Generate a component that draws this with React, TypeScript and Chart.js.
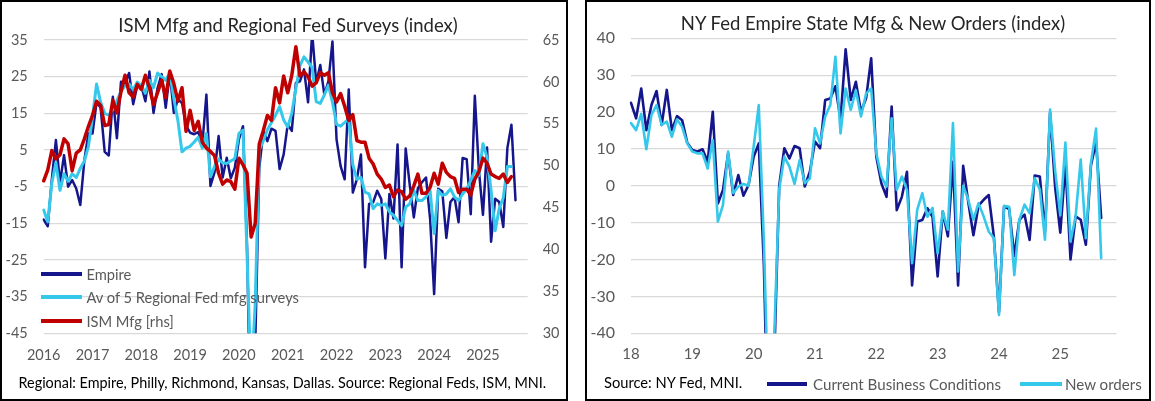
import React, { useEffect, useRef } from 'react';
import { Chart, registerables } from 'chart.js';

Chart.register(...registerables);

// ---------- categories / tick labels ----------
const MONTHS = ['Jan', 'Feb', 'Mar', 'Apr', 'May', 'Jun', 'Jul', 'Aug', 'Sep', 'Oct', 'Nov', 'Dec'];
const leftYears = ['2016', '2017', '2018', '2019', '2020', '2021', '2022', '2023', '2024', '2025'];
const rightYears = ['18', '19', '20', '21', '22', '23', '24', '25'];

// ---------- series (monthly, from Jan 2016) ----------
const empire = [
  -14, -15.8, -3, 7.7, -4, 3.6, -5, -3.2, -5.5, -10, 2.2, 9.5,
  9.5, 18, 16.5, 4.5, 3.5, 19.5, 8.2, 23.6, 23.2, 26, 17.5, 22.5,
  22.5, 18.3, 26.4, 15.1, 21.9, 25.7, 16.5, 26, 15.1, 18.9, 17.8, 11.7,
  9.7, 9.3, 9.9, 6.5, 20.1, -4.8, -1.1, 8.8, -2.5, 2.9, -2.7, 0.2,
  7.9, 11.5, -21.5, -78.2, -48.5, 0, 10.2, 7.4, 10.8, 10.2, -0.2, 3.8,
  12, 10.2, 23.3, 23.7, 27, 18, 37, 23.3, 28.2, 20.1, 23.7, 34.6,
  7.9, 0.6, -3, 21.5, -6.6, -3, 3.8, -27, -9.7, -9.3, -6.1, -8.4,
  -24.6, -7, -13.7, 6.5, -27, 5.4, -4.5, -13.4, -5.4, -3.8, -2.5, -13.7,
  -34.3, -5.6, -6.3, -19, -9.2, -7.8, -14.7, 2.8, 2.5, -12.5, 19.8, -0.5,
  -12.7, 5.7, -20, -8.3, -9.2, -16, 5.5, 11.9, -8.7,
];

const regionalAvg = [
  -11.4, -14.6, -4, 1.5, -6, -1.5, -3.5, -1.5, -2.5, 0, 2, 6,
  14, 23, 18, 15, 14.5, 16, 18.5, 21, 22.5, 23, 21.5, 23.5,
  22.5, 20.5, 24, 22, 26, 25, 24, 26, 19, 13, 4.5, 5.5,
  6, 7.2, 8.5, 5.5, 9.5, -2.3, 0.5, 2.5, 1.5, 1.3, 2, 2.7,
  9.5, 10.4, -24, -58, -37, 5, 7.5, 10.5, 12.5, 14.5, 16.8, 13.2,
  11.3, 15, 21.8, 28, 30.4, 29, 27.5, 18.2, 17.7, 20, 22.7, 18,
  12, 11.5, 12.5, 13.5, 1, -3, -2.5, -6.5, -7, -11, -9.7, -10.1,
  -9.7, -11.9, -12.8, -14.2, -15.6, -10.6, -9.7, -6, -8.8, -8.8, -7.8, -6,
  -17.8, -6, -7.4, -7, -5.6, -7.8, -8.8, -7, -5.6, -3.3, -0.6, -2,
  6.7, 3, -6, -17, -11, -8, 0.5, 0.5,
];

const ismMfg = [
  48.2, 49.5, 51.8, 50.8, 51.3, 53.2, 52.6, 49.4, 51.5, 51.9, 53.2, 54.7,
  56.0, 57.7, 57.2, 54.8, 54.9, 57.8, 56.3, 58.8, 60.8, 58.7, 58.2, 59.7,
  59.1, 60.8, 59.3, 57.3, 58.7, 60.2, 58.1, 61.3, 59.8, 57.7, 59.3, 54.1,
  56.6, 54.2, 55.3, 52.8, 52.1, 51.7, 51.2, 49.1, 47.8, 48.3, 48.1, 47.2,
  50.9, 50.1, 49.1, 41.5, 43.1, 52.6, 54.2, 56.0, 55.4, 59.3, 57.5, 60.7,
  58.7, 60.8, 64.2, 60.7, 61.2, 60.6, 59.5, 59.9, 61.1, 60.8, 61.1, 58.7,
  57.6, 58.6, 57.1, 55.4, 56.1, 53.0, 52.8, 52.8, 50.9, 50.2, 49.0, 48.4,
  47.4, 47.7, 46.3, 47.1, 46.9, 46.0, 46.4, 47.6, 49.0, 46.7, 46.7, 47.4,
  49.1, 47.8, 50.3, 49.2, 48.7, 48.5, 46.8, 47.2, 47.2, 46.5, 48.4, 49.3,
  50.9, 50.3, 49.0, 48.7, 48.5, 49.0, 48.0, 48.7,
];

// Right panel: monthly from Jan 2018
const currentConditions = empire.slice(24);
const newOrders = [
  17, 15.1, 19.5, 9.9, 19.2, 21.9, 16.5, 17.4, 13.3, 18, 16, 11.5,
  9.3, 8.8, 8.8, 4.7, 12.4, -9.7, -5.2, 9.3, -2, -0.2, 0.5, 0,
  10.6, 21.9, -15, -66, -42, -1, 7.9, 5.2, 0.5, 7, 0.7, 2,
  15.6, 11.5, 18.8, 21.9, 35, 14.2, 26.4, 20.6, 25.9, 18.8, 25, 26.4,
  8.8, 2.5, -0.2, 18.3, -1.1, 2.5, -1.1, -21, -6.5, -2, -8.4, -6,
  -18.3, -7, -11.9, 17, -23.2, 0, -3.8, -9.2, -4.7, -8.3, -12.4, -14.2,
  -35, -5.4, -5.7, -24.2, -9.2, -5.1, -7.4, 2.1, -1, -14.6, 20.7, 4,
  -8, 11.7, -15.1, -8.3, 7.1, -14.2, 6.2, 15.5, -19.6,
];

const leftLabels = leftYears.flatMap((y) => MONTHS.map((m) => `${m} ${y}`));
const rightLabels = rightYears.flatMap((y) => MONTHS.map((m) => `${m} ${y}`));

const NAVY = '#16168c';
const CYAN = '#35c8ea';
const RED = '#c00000';
const GRID = '#d9d9d9';
const TICK = '#595959';
const FONT = 'Lato';

const W = 1155;
const H = 401;
const LEFT_W = 568;
const RIGHT_X = 585;
const RIGHT_W = 566;

export default function App() {
  const leftRef = useRef<HTMLCanvasElement | null>(null);
  const rightRef = useRef<HTMLCanvasElement | null>(null);

  useEffect(() => {
    Chart.defaults.font.family = FONT;

    const left = new Chart(leftRef.current as HTMLCanvasElement, {
      type: 'line',
      data: {
        labels: leftLabels,
        datasets: [
          { label: 'ISM Mfg [rhs]', data: ismMfg, yAxisID: 'y1', borderColor: RED, borderWidth: 3.5, pointRadius: 0, order: 1 },
          { label: 'Av of 5 Regional Fed mfg surveys', data: regionalAvg, yAxisID: 'y', borderColor: CYAN, borderWidth: 3, pointRadius: 0, order: 2 },
          { label: 'Empire', data: empire, yAxisID: 'y', borderColor: NAVY, borderWidth: 2.5, pointRadius: 0, order: 3 },
        ],
      },
      options: {
        responsive: false,
        animation: false,
        layout: { padding: { top: 40, left: 0, right: 0, bottom: 0 } },
        plugins: { legend: { display: false }, tooltip: { enabled: false }, title: { display: false } },
        elements: { line: { tension: 0, borderJoinStyle: 'round', borderCapStyle: 'round' } },
        scales: {
          x: {
            type: 'category',
            grid: { display: false, drawTicks: false },
            border: { display: false },
            ticks: {
              autoSkip: false,
              maxRotation: 0,
              minRotation: 0,
              padding: 13,
              color: TICK,
              font: { size: 14.5, family: FONT },
              callback: (_v: any, i: number) => (i % 12 === 0 ? leftYears[i / 12] : null),
            },
            afterFit: (s: any) => { s.height = H - 333.3; },
          },
          y: {
            position: 'left',
            min: -45,
            max: 35,
            ticks: { stepSize: 10, padding: 16, color: TICK, font: { size: 14.5, family: FONT } },
            grid: { color: GRID, lineWidth: 1.3, drawTicks: false },
            border: { display: false },
            afterFit: (s: any) => { s.width = 43.7; },
          },
          y1: {
            position: 'right',
            min: 30,
            max: 65,
            ticks: { stepSize: 5, padding: 15, color: TICK, font: { size: 14.5, family: FONT } },
            grid: { display: false, drawTicks: false },
            border: { display: false },
            afterFit: (s: any) => { s.width = LEFT_W - 527.7; },
          },
        },
      },
    } as any);

    const right = new Chart(rightRef.current as HTMLCanvasElement, {
      type: 'line',
      data: {
        labels: rightLabels,
        datasets: [
          { label: 'New orders', data: newOrders, borderColor: CYAN, borderWidth: 2.6, pointRadius: 0, order: 1 },
          { label: 'Current Business Conditions', data: currentConditions, borderColor: NAVY, borderWidth: 2.6, pointRadius: 0, order: 2 },
        ],
      },
      options: {
        responsive: false,
        animation: false,
        layout: { padding: { top: 38.3, left: 0, right: RIGHT_X + RIGHT_W - 1116.5, bottom: 0 } },
        plugins: { legend: { display: false }, tooltip: { enabled: false }, title: { display: false } },
        elements: { line: { tension: 0, borderJoinStyle: 'round', borderCapStyle: 'round' } },
        scales: {
          x: {
            type: 'category',
            grid: { display: false, drawTicks: false },
            border: { display: false },
            ticks: {
              autoSkip: false,
              maxRotation: 0,
              minRotation: 0,
              padding: 12,
              color: TICK,
              font: { size: 15, family: FONT },
              callback: (_v: any, i: number) => (i % 12 === 0 ? rightYears[i / 12] : null),
            },
            afterFit: (s: any) => { s.height = H - 333.3; },
          },
          y: {
            position: 'left',
            min: -40,
            max: 40,
            ticks: { stepSize: 10, padding: 16, color: TICK, font: { size: 16, family: FONT } },
            grid: { color: GRID, lineWidth: 1.3, drawTicks: false },
            border: { display: false },
            afterFit: (s: any) => { s.width = 631 - RIGHT_X; },
          },
        },
      },
    } as any);

    return () => {
      left.destroy();
      right.destroy();
    };
  }, []);

  const abs = (x: number, y: number, extra: React.CSSProperties = {}): React.CSSProperties => ({
    position: 'absolute', left: x, top: y, ...extra,
  });
  const text = (size: number, color: string): React.CSSProperties => ({
    fontFamily: FONT, fontSize: size, color, whiteSpace: 'nowrap', lineHeight: '20px',
  });

  const legendItem = (x: number, cy: number, color: string, lineW: number, label: string, tx: number, size: number) => (
    <React.Fragment key={label}>
      <div style={abs(x, cy - 2, { width: lineW, height: 4, background: color })} />
      <div style={abs(tx, cy - 10, text(size, TICK))}>{label}</div>
    </React.Fragment>
  );

  return (
    <div style={{ position: 'absolute', left: 0, top: 0, width: W, height: H, background: '#fff' }}>
      {/* Left panel */}
      <canvas ref={leftRef} width={LEFT_W} height={H} style={abs(0, 0, { width: LEFT_W, height: H })} />
      <div style={abs(0, 15, { width: 576, textAlign: 'center', ...text(18.5, '#262626') })}>
        ISM Mfg and Regional Fed Surveys (index)
      </div>
      {legendItem(40.6, 274, NAVY, 41.4, 'Empire', 86.4, 14.7)}
      {legendItem(40.6, 297.3, CYAN, 41.4, 'Av of 5 Regional Fed mfg surveys', 86.4, 14.7)}
      {legendItem(40.6, 320.7, RED, 41.4, 'ISM Mfg [rhs]', 86.4, 14.7)}
      <div style={abs(18.5, 372.7, text(14.4, '#000'))}>
        Regional: Empire, Philly, Richmond, Kansas, Dallas. Source: Regional Feds, ISM, MNI.
      </div>
      <div style={abs(0, 0, { width: LEFT_W, height: H, border: '2px solid #000', boxSizing: 'border-box', pointerEvents: 'none' })} />

      {/* Right panel */}
      <canvas ref={rightRef} width={RIGHT_W} height={H} style={abs(RIGHT_X, 0, { width: RIGHT_W, height: H })} />
      <div style={abs(585, 13.3, { width: 576, textAlign: 'center', ...text(18.5, '#262626') })}>
        NY Fed Empire State Mfg &amp; New Orders (index)
      </div>
      <div style={abs(604, 371.7, text(14.7, '#000'))}>Source: NY Fed, MNI.</div>
      {legendItem(767, 383.5, NAVY, 40, 'Current Business Conditions', 813, 15.1)}
      {legendItem(1020, 383.5, CYAN, 42, 'New orders', 1065, 15.1)}
      <div style={abs(RIGHT_X, 0, { width: RIGHT_W, height: H, border: '2px solid #000', boxSizing: 'border-box', pointerEvents: 'none' })} />
    </div>
  );
}
